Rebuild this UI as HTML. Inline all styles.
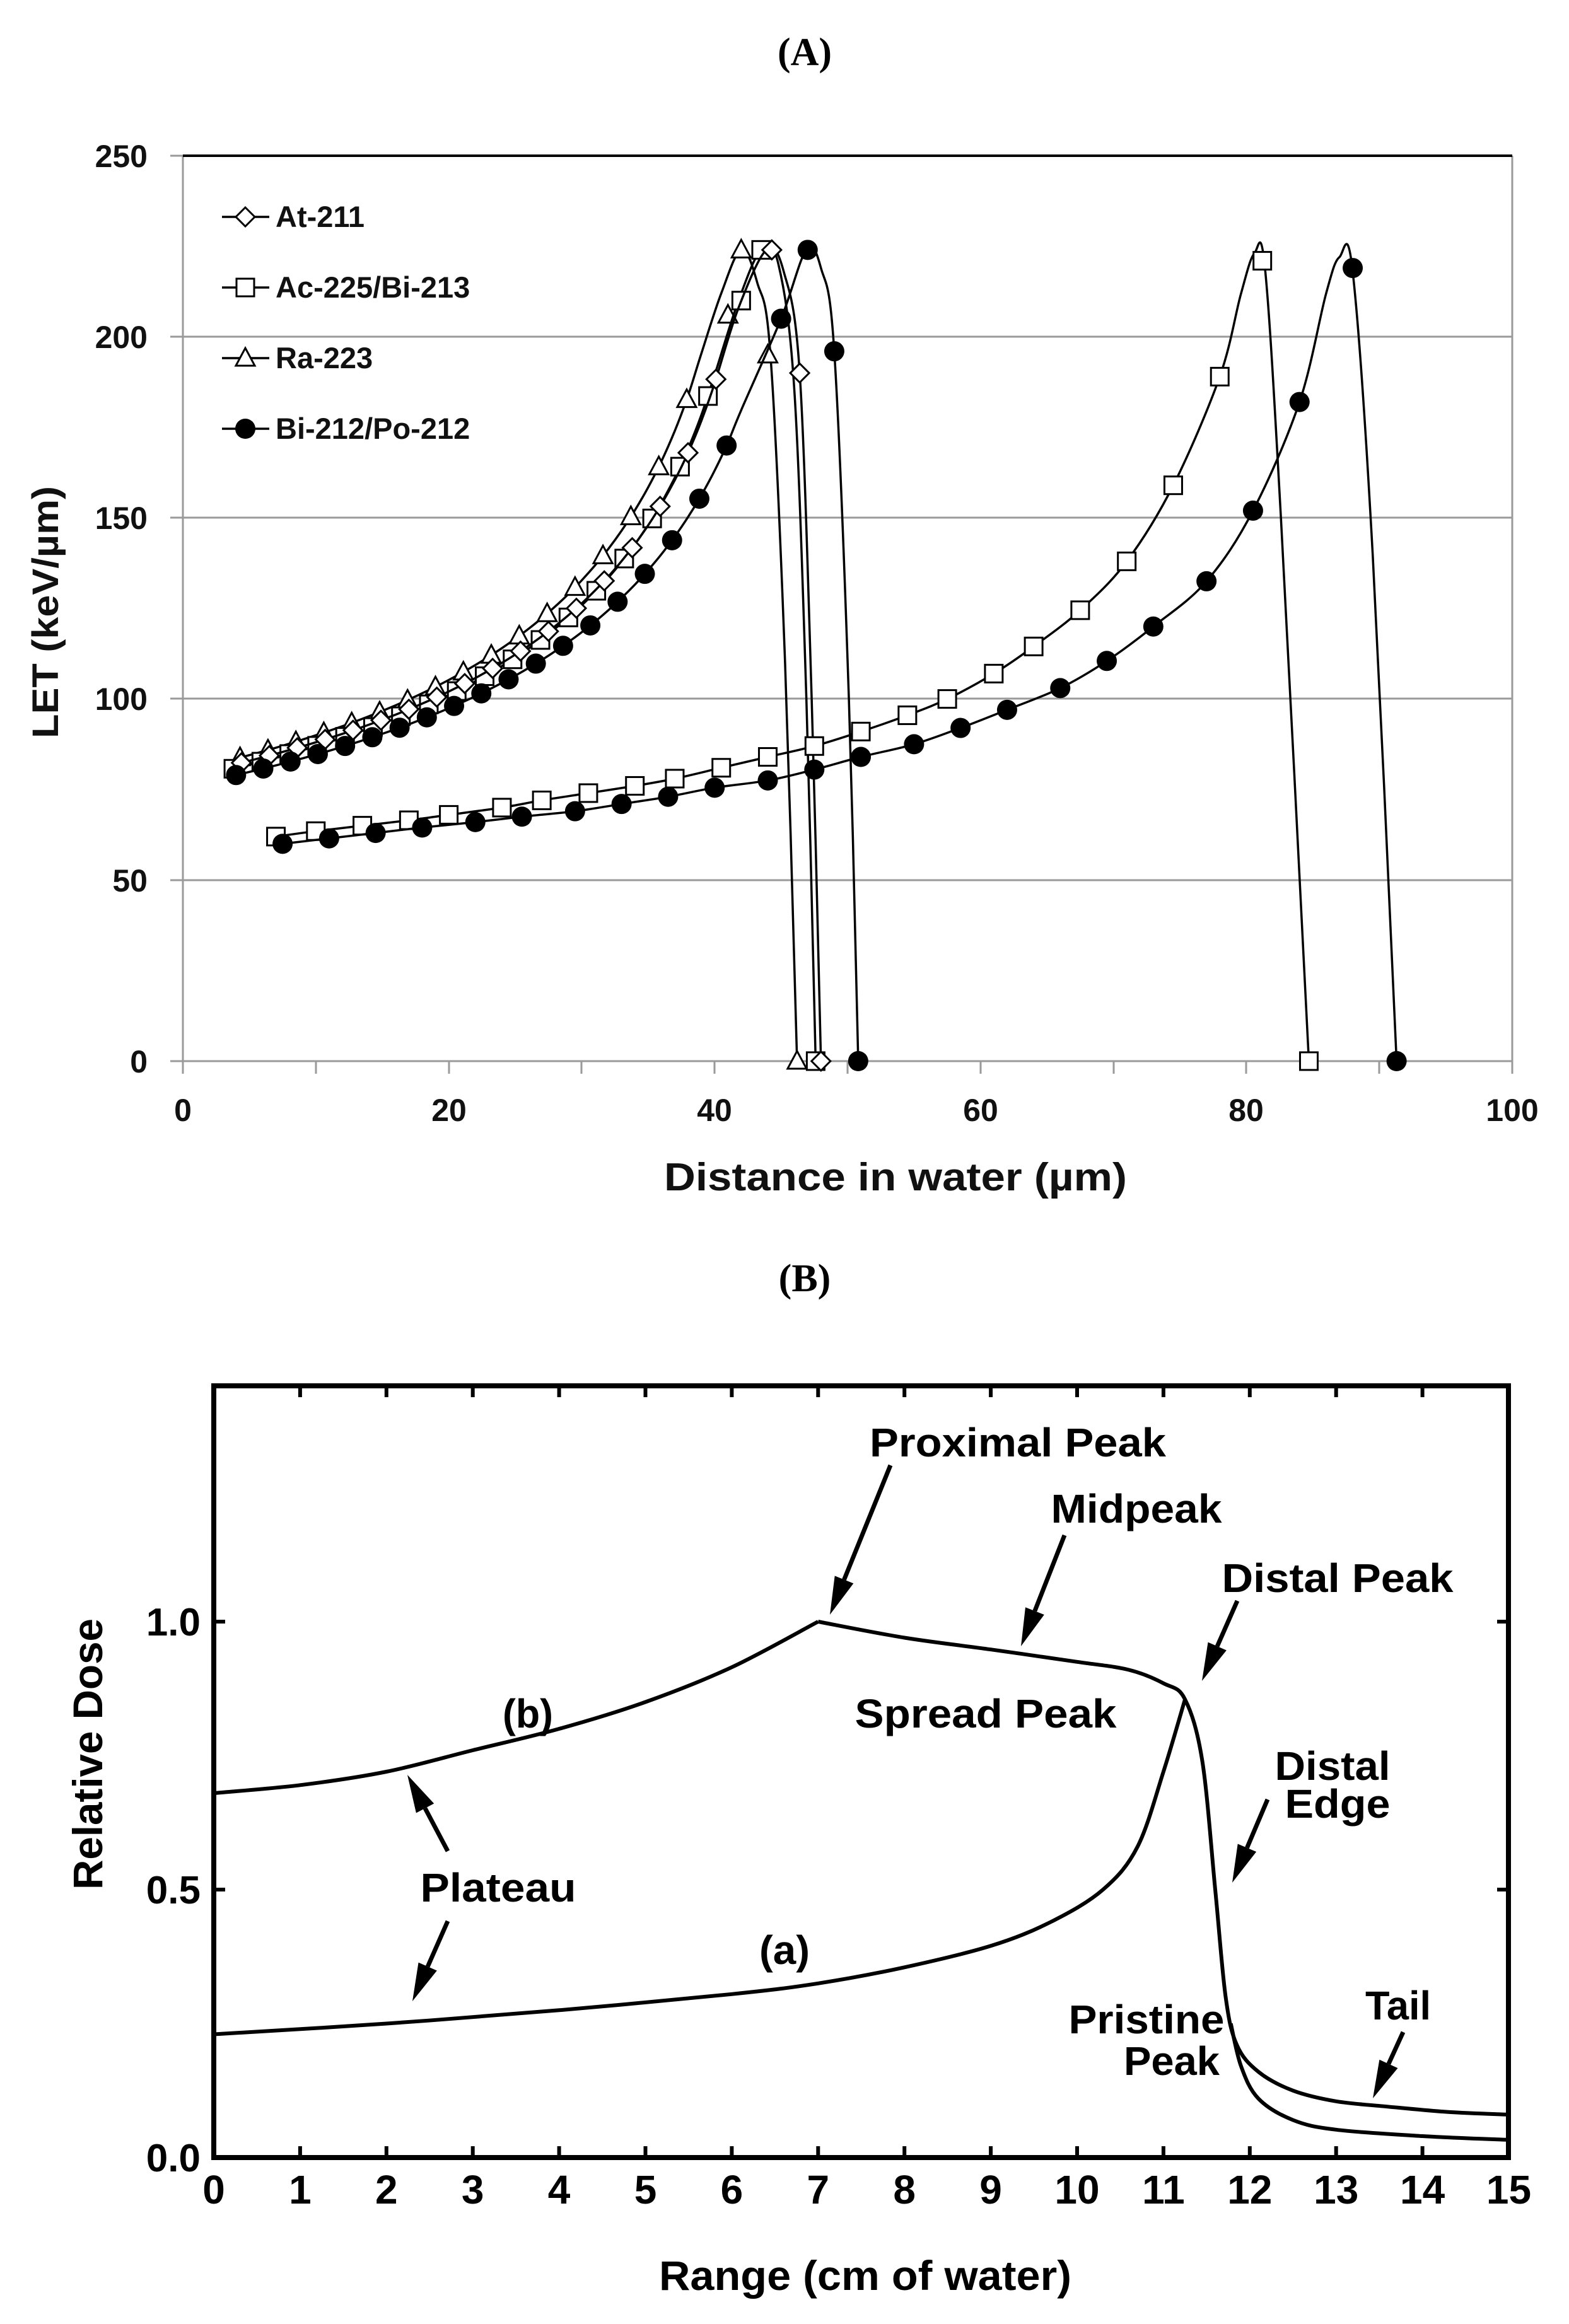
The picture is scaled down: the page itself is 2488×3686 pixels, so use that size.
<!DOCTYPE html>
<html><head><meta charset="utf-8">
<style>
html,body{margin:0;padding:0;background:#fff;}
svg{display:block;}
.a{font-family:"Liberation Sans",sans-serif;font-weight:bold;fill:#111;}
.b{font-family:"Liberation Sans",sans-serif;font-weight:bold;fill:#000;}
.t{font-family:"Liberation Serif",serif;font-weight:bold;fill:#000;}
</style></head>
<body>
<svg id="s" width="2488" height="3686" viewBox="0 0 2488 3686" xmlns="http://www.w3.org/2000/svg">
<rect width="2488" height="3686" fill="#fff"/>
<text class="t" x="1276" y="103" font-size="62" text-anchor="middle">(A)</text>
<text class="t" x="1276" y="2048" font-size="62" text-anchor="middle">(B)</text>

<g stroke="#9a9a9a" stroke-width="3">
<line x1="290" y1="534" x2="2398" y2="534"/>
<line x1="290" y1="821" x2="2398" y2="821"/>
<line x1="290" y1="1108" x2="2398" y2="1108"/>
<line x1="290" y1="1396" x2="2398" y2="1396"/>
<line x1="290" y1="1683" x2="2398" y2="1683"/>
<line x1="290" y1="247" x2="290" y2="1683"/>
<line x1="2398" y1="247" x2="2398" y2="1683"/>
<line x1="270" y1="247" x2="290" y2="247"/><line x1="270" y1="534" x2="290" y2="534"/>
<line x1="270" y1="821" x2="290" y2="821"/><line x1="270" y1="1108" x2="290" y2="1108"/>
<line x1="270" y1="1396" x2="290" y2="1396"/><line x1="270" y1="1683" x2="290" y2="1683"/>
<line x1="290" y1="1683" x2="290" y2="1703"/><line x1="501" y1="1683" x2="501" y2="1703"/>
<line x1="712" y1="1683" x2="712" y2="1703"/><line x1="922" y1="1683" x2="922" y2="1703"/>
<line x1="1133" y1="1683" x2="1133" y2="1703"/><line x1="1344" y1="1683" x2="1344" y2="1703"/>
<line x1="1555" y1="1683" x2="1555" y2="1703"/><line x1="1766" y1="1683" x2="1766" y2="1703"/>
<line x1="1976" y1="1683" x2="1976" y2="1703"/><line x1="2187" y1="1683" x2="2187" y2="1703"/>
<line x1="2398" y1="1683" x2="2398" y2="1703"/>
</g>
<line x1="290" y1="247" x2="2398" y2="247" stroke="#000" stroke-width="4"/>
<g class="a" font-size="50" text-anchor="end">
<text x="234" y="265">250</text><text x="234" y="552">200</text><text x="234" y="839">150</text>
<text x="234" y="1126">100</text><text x="234" y="1414">50</text><text x="234" y="1701">0</text>
</g>
<g class="a" font-size="50" text-anchor="middle">
<text x="290" y="1778">0</text><text x="712" y="1778">20</text><text x="1133" y="1778">40</text>
<text x="1555" y="1778">60</text><text x="1976" y="1778">80</text><text x="2398" y="1778">100</text>
</g>
<text class="a" x="1420" y="1888" font-size="62" text-anchor="middle" textLength="734" lengthAdjust="spacingAndGlyphs">Distance in water  (µm)</text>
<text class="a" transform="translate(92,971) rotate(-90)" font-size="58" text-anchor="middle" textLength="400" lengthAdjust="spacingAndGlyphs">LET (keV/µm)</text>

<g class="a" font-size="47">
<text x="437" y="360">At-211</text>
<text x="437" y="472">Ac-225/Bi-213</text>
<text x="437" y="584">Ra-223</text>
<text x="437" y="696">Bi-212/Po-212</text>
</g>
<g id="ga"></g>
<g id="leg"></g>

<g stroke="#000" stroke-width="8" fill="none">
<rect x="339" y="2198" width="2053" height="1224"/>
</g>
<g id="ticksB" stroke="#000" stroke-width="6"></g>
<g class="b" font-size="62" text-anchor="end">
<text x="318" y="3444">0.0</text><text x="318" y="3019">0.5</text><text x="318" y="2594">1.0</text>
</g>
<g id="xlB" class="b" font-size="64" text-anchor="middle"></g>
<text class="b" x="1372" y="3632" font-size="66" text-anchor="middle" textLength="654" lengthAdjust="spacingAndGlyphs">Range (cm of water)</text>
<text class="b" transform="translate(162,2782) rotate(-90)" font-size="66" text-anchor="middle" textLength="430" lengthAdjust="spacingAndGlyphs">Relative Dose</text>
<g class="b" font-size="64" text-anchor="middle">
<text x="1614" y="2310" textLength="470" lengthAdjust="spacingAndGlyphs">Proximal Peak</text>
<text x="1802" y="2415" textLength="271" lengthAdjust="spacingAndGlyphs">Midpeak</text>
<text x="2121" y="2525" textLength="367" lengthAdjust="spacingAndGlyphs">Distal Peak</text>
<text x="1563" y="2740" textLength="415" lengthAdjust="spacingAndGlyphs">Spread Peak</text>
<text x="837" y="2740" textLength="80" lengthAdjust="spacingAndGlyphs">(b)</text>
<text x="2113" y="2823" textLength="183" lengthAdjust="spacingAndGlyphs">Distal</text>
<text x="2121" y="2883" textLength="167" lengthAdjust="spacingAndGlyphs">Edge</text>
<text x="790" y="3016" textLength="247" lengthAdjust="spacingAndGlyphs">Plateau</text>
<text x="1244" y="3115" textLength="80" lengthAdjust="spacingAndGlyphs">(a)</text>
<text x="1818" y="3225" textLength="247" lengthAdjust="spacingAndGlyphs">Pristine</text>
<text x="1858" y="3291" textLength="152" lengthAdjust="spacingAndGlyphs">Peak</text>
<text x="2217" y="3203" textLength="104" lengthAdjust="spacingAndGlyphs">Tail</text>
</g>
<g id="gb"></g>
</svg>
<script>
var NS="http://www.w3.org/2000/svg";
function el(p,t,a){var e=document.createElementNS(NS,t);for(var k in a)e.setAttribute(k,a[k]);p.appendChild(e);return e;}
function cr(pts){var d="M"+pts[0][0].toFixed(1)+","+pts[0][1].toFixed(1);
 for(var i=0;i<pts.length-1;i++){var p0=pts[i-1]||pts[i],p1=pts[i],p2=pts[i+1],p3=pts[i+2]||p2;
  var c1=[p1[0]+(p2[0]-p0[0])/6,p1[1]+(p2[1]-p0[1])/6],c2=[p2[0]-(p3[0]-p1[0])/6,p2[1]-(p3[1]-p1[1])/6];
  d+="C"+c1[0].toFixed(1)+","+c1[1].toFixed(1)+" "+c2[0].toFixed(1)+","+c2[1].toFixed(1)+" "+p2[0].toFixed(1)+","+p2[1].toFixed(1);}
 return d;}
var ga=document.getElementById("ga");
function X(d){return 290+21.08*d;}function Y(v){return 1683-5.744*v;}
function f(c,R,q){return function(d){return c*Math.pow(R-d,-q);};}
function series(fn,d0,d1,tail){var pts=[];for(var d=d0;d<=d1+1e-6;d+=1)pts.push([d,fn(d)]);
 tail.forEach(function(t){pts.push(t)});return pts;}
function marker(p,type,x,y){
 if(type=="d")el(p,"polygon",{points:(x)+","+(y-15)+" "+(x+15)+","+y+" "+x+","+(y+15)+" "+(x-15)+","+y,fill:"#fff",stroke:"#000","stroke-width":3});
 if(type=="s")el(p,"rect",{x:x-14,y:y-14,width:28,height:28,fill:"#fff",stroke:"#000","stroke-width":3});
 if(type=="t")el(p,"polygon",{points:x+","+(y-16)+" "+(x+15)+","+(y+12)+" "+(x-15)+","+(y+12),fill:"#fff",stroke:"#000","stroke-width":3});
 if(type=="c")el(p,"circle",{cx:x,cy:y,r:16,fill:"#000"});
}
function draw(pts,type,marks){
 el(ga,"path",{d:cr(pts.map(function(p){return [X(p[0]),Y(p[1])]})),fill:"none",stroke:"#000","stroke-width":3.5});
 marks.forEach(function(m){marker(ga,type,X(m[0]),Y(m[1]));});
}
var fAt=f(512,48,0.484),fRa=f(83.5*Math.pow(42.5,0.49),46.5,0.49),fAc=f(81*Math.pow(43.5,0.487),47.6,0.487),fBi=f(568,51.5,0.511);
function mk(fn,ds,extra){var m=ds.map(function(d){return [d,fn(d)]});return m.concat(extra);}
var ds=[];for(var d=4;d<=41;d+=2.1)ds.push(d);
draw(series(fRa,4,39,[[40.5,212],[42,224],[43.2,215],[44.2,195],[45.3,110],[46.2,0]]),"t",mk(fRa,ds.slice(0,-1).map(function(d){return d+0.3}),[[41,206],[42,224],[44,195],[46.2,0]]));
draw(series(fAc,4,40,[[41.8,210],[43.5,224],[44.8,220],[46,185],[46.9,100],[47.6,0]]),"s",mk(fAc,ds.map(function(d){return d-0.2}),[[42,210],[43.5,224],[47.6,0]]));
draw(series(fAt,4,40,[[41.8,208],[43.9,224],[45.2,218],[46.4,190],[47.3,100],[48,0]]),"d",mk(fAt,ds.map(function(d){return d+0.4}),[[44.3,224],[46.4,190],[48,0]]));
var dsb=[];for(var d=4;d<=42.6;d+=2.05)dsb.push(d);
draw(series(fBi,4,42,[[45,205],[46.9,224],[48,219],[49,196],[50.1,100],[50.8,0]]),"c",mk(fBi,dsb,[[45,205],[47,224],[49,196],[50.8,0]]));
var acL=[[7,62],[10,63.5],[13.5,65],[17,66.5],[20,68],[24,70],[27,72],[30.5,74],[34,76],[37,78],[40.5,81],[44,84],[47.5,87],[51,91],[54.5,95.5],[57.5,100],[61,107],[64,114.5],[67.5,124.5],[71,138],[74.5,159],[78,189]];
draw(acL.concat([[79.6,212],[80.6,223],[81.4,219],[82.6,150],[84.7,0]]),"s",acL.concat([[81.2,221],[84.7,0]]));
var biL=[[7.5,60],[11,61.5],[14.5,63],[18,64.5],[22,66],[25.5,67.5],[29.5,69],[33,71],[36.5,73],[40,75.5],[44,77.5],[47.5,80.5],[51,84],[55,87.5],[58.5,92],[62,97],[66,103],[69.5,110.5],[73,120],[77,132.5],[80.5,152],[84,182]];
draw(biL.concat([[86,212],[87,222],[88,218],[89.5,140],[91.3,0]]),"c",biL.concat([[88,219],[91.3,0]]));
var lg=document.getElementById("leg");
[[344,"d"],[456,"s"],[568,"t"],[680,"c"]].forEach(function(l){el(lg,"line",{x1:352,y1:l[0],x2:427,y2:l[0],stroke:"#000","stroke-width":3.5});marker(lg,l[1],389,l[0]);});
var tk=document.getElementById("ticksB"),xl=document.getElementById("xlB");
function XB(x){return 339+136.9*x;}function YB(v){return 3422-850*v;}
for(var i=0;i<=15;i++){var x=XB(i);el(tk,"line",{x1:x,y1:3422,x2:x,y2:3404});el(tk,"line",{x1:x,y1:2198,x2:x,y2:2216});
 var t=el(xl,"text",{x:x,y:3495});t.textContent=i;}
[0.5,1.0].forEach(function(v){el(tk,"line",{x1:339,y1:YB(v),x2:357,y2:YB(v)});el(tk,"line",{x1:2392,y1:YB(v),x2:2374,y2:YB(v)});});
var gb=document.getElementById("gb");
function pb(pts){el(gb,"path",{d:cr(pts.map(function(p){return [XB(p[0]),YB(p[1])]})),fill:"none",stroke:"#000","stroke-width":6,"stroke-linejoin":"round"});}
pb([[0,0.68],[1,0.695],[2,0.72],[3,0.76],[4,0.80],[5,0.85],[6,0.915],[7,1.0]]);
pb([[7,1.0],[8,0.97],[9,0.948],[10,0.925],[10.6,0.91],[11,0.885],[11.25,0.855],[11.45,0.74],[11.6,0.5],[11.72,0.3],[11.85,0.21],[12.1,0.16],[12.5,0.125],[13,0.105],[13.6,0.095],[14.3,0.085],[15,0.08]]);
pb([[0,0.23],[2,0.25],[4,0.275],[6,0.305],[7,0.325],[8,0.355],[9,0.395],[9.7,0.44],[10.3,0.5],[10.7,0.58],[11,0.72],[11.25,0.855]]);
pb([[11.78,0.25],[11.9,0.17],[12.1,0.11],[12.5,0.07],[13,0.052],[14,0.04],[15,0.033]]);
function arrow(x1,y1,x2,y2){var dx=x2-x1,dy=y2-y1,L=Math.sqrt(dx*dx+dy*dy),ux=dx/L,uy=dy/L;
 var bx=x2-ux*60,by=y2-uy*60;el(gb,"line",{x1:x1,y1:y1,x2:bx,y2:by,stroke:"#000","stroke-width":7});
 el(gb,"polygon",{points:x2+","+y2+" "+(bx-uy*16)+","+(by+ux*16)+" "+(bx+uy*16)+","+(by-ux*16),fill:"#000"});}
arrow(1412,2324,1316,2561);arrow(1688,2435,1619,2611);arrow(1962,2539,1906,2666);
arrow(2010,2854,1954,2986);arrow(710,2936,646,2815);arrow(710,3047,654,3174);arrow(2225,3223,2177,3328);
</script>
</body></html>
